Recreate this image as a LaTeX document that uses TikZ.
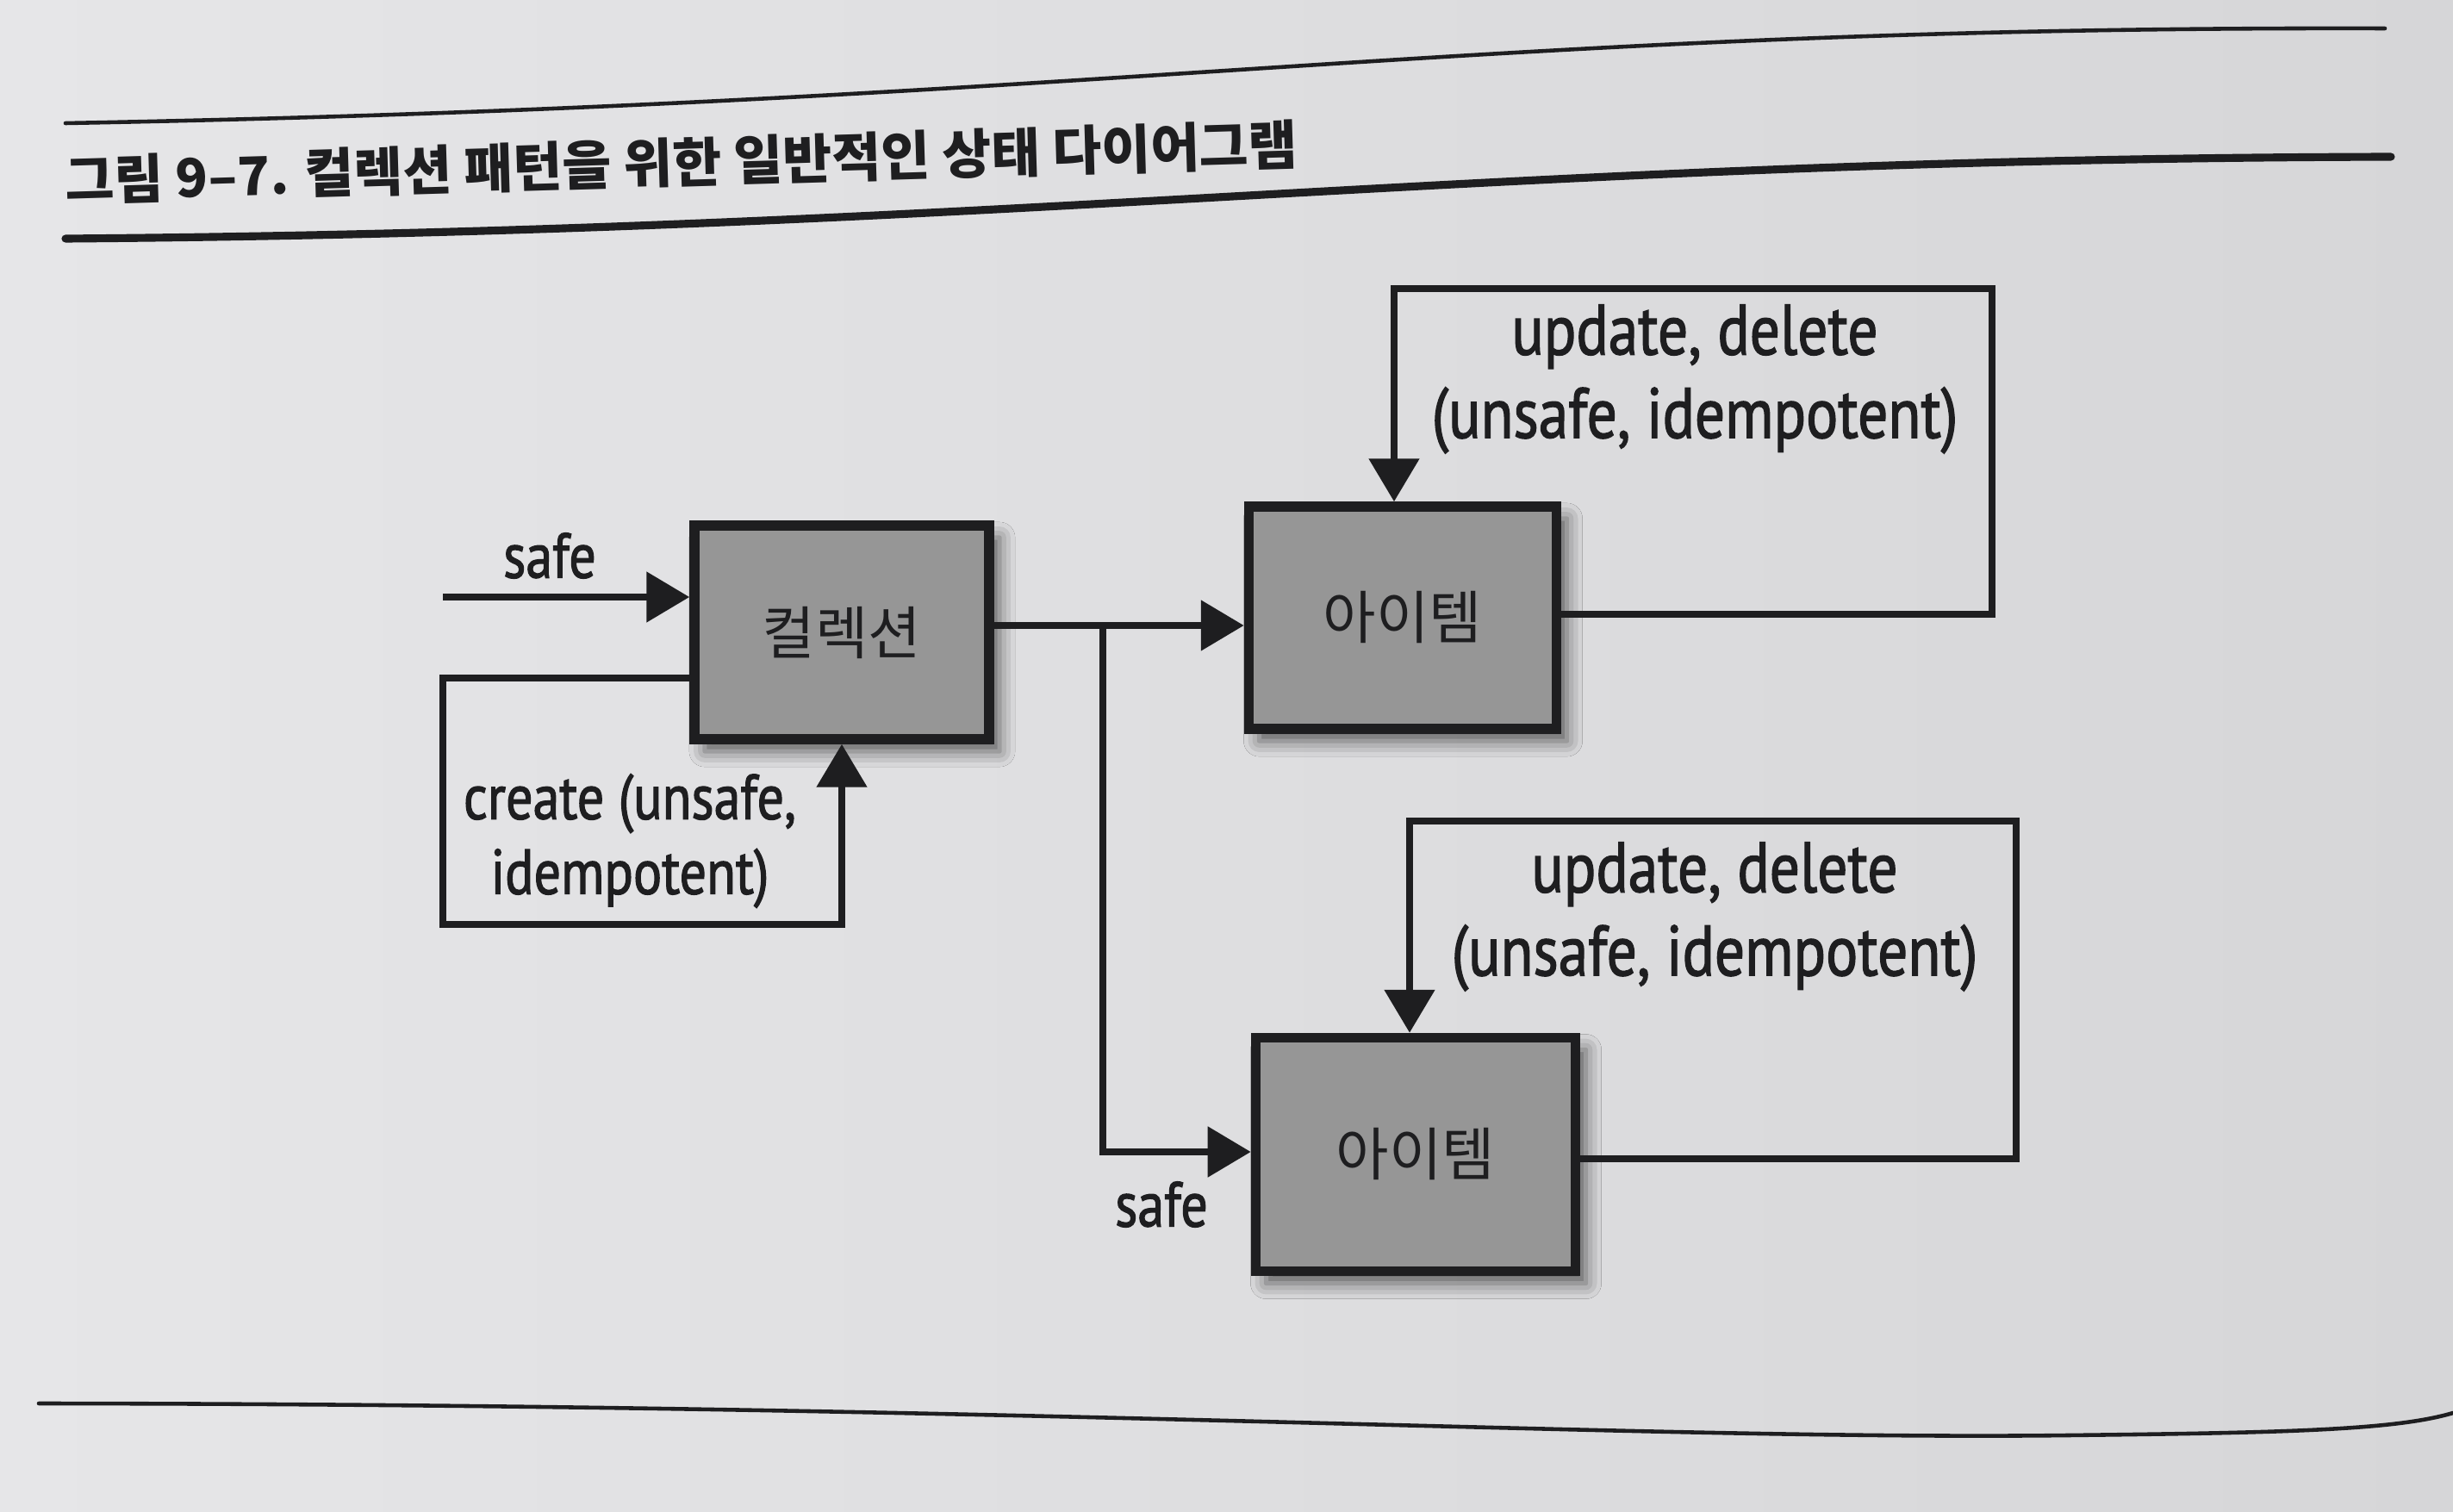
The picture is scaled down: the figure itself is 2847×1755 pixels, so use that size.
\documentclass[tikz,border=0pt]{standalone}
\usepackage{fontspec}
\newfontfamily\cjk{Noto Sans CJK KR}
\newfontfamily\lbl[FakeStretch=0.84,FakeBold=1.6]{PT Sans}
\usetikzlibrary{arrows.meta,shadows.blur}
\definecolor{paper}{RGB}{230,230,232}
\definecolor{paperdark}{RGB}{214,214,216}
\definecolor{boxgray}{RGB}{150,150,150}
\definecolor{ink}{RGB}{30,30,32}
\tikzset{
  statebox/.style={draw=ink, line width=3.2pt, fill=boxgray, inner sep=0pt,
    font=\cjk\fontsize{19}{21}\selectfont, text=ink,
    blur shadow={shadow xshift=0.12cm, shadow yshift=-0.14cm, shadow blur radius=0.18cm, shadow opacity=60}},
  conn/.style={draw=ink, line width=2.4pt, line join=miter},
  arr/.style={conn, -{Triangle[length=0.5cm,width=0.57cm]}},
  lab/.style={font=\lbl\fontsize{21}{24.7}\selectfont, text=ink, align=center, inner sep=0pt},
  biglab/.style={lab, font=\lbl\fontsize{23.5}{27.5}\selectfont},
  rule/.style={draw=ink, line cap=round},
}
\begin{document}
\begin{tikzpicture}[x=0.01cm,y=-0.01cm]
\useasboundingbox (0,0) rectangle (2847,1755);
\shade[left color=paper, right color=paperdark] (0,0) rectangle (2847,1755);

% rules and caption
\draw[rule, line width=1.3pt] (76,143) .. controls (1300,120) and (1700,30) .. (2768,33);
\draw[rule, line width=2.6pt] (76,277) .. controls (1200,268) and (1700,185) .. (2775,182);
\draw[rule, line width=1.3pt] (45,1629) .. controls (1200,1630) and (1900,1672) .. (2400,1666) .. controls (2650,1663) and (2780,1660) .. (2847,1640);
\node[anchor=base west, rotate=1.7, inner sep=0pt, text=ink, font=\cjk\bfseries\fontsize{17.6}{20}\selectfont] (title) at (76,233) {그림 9–7. 컬렉션 패턴을 위한 일반적인 상태 다이어그램};

% states
\node[statebox, minimum width=3.42cm, minimum height=2.48cm] (coll) at (977,734) {컬렉션};
\node[statebox, minimum width=3.57cm, minimum height=2.58cm] (item1) at (1628,717) {아이템};
\node[statebox, minimum width=3.71cm, minimum height=2.71cm] (item2) at (1643,1340) {아이템};

% entry
\coordinate (s0) at (514,693);
\draw[arr] (s0) -- (s0 -| coll.west);
\node[lab] (safeA) at (638,645) {safe};

% create loop
\coordinate (c1) at (514,787);
\coordinate (c2) at (514,1073);
\draw[arr] (coll.west |- c1) -- (c1) -- (c2) -- (c2 -| coll.south) -- (coll.south);
\node[lab] (create) at (731,976) {create (unsafe,\\idempotent)};

% collection to items
\coordinate (m) at (1280,726);
\coordinate (b) at (1280,1337);
\draw[arr] (coll.east |- m) -- (m -| item1.west);
\draw[arr] (m) -- (b) -- (b -| item2.west);
\node[lab] (safeB) at (1348,1398) {safe};

% item loops
\coordinate (t1) at (2312,713);
\coordinate (t2) at (2312,335);
\coordinate (t3) at (1618,335);
\draw[arr] (item1.east |- t1) -- (t1) -- (t2) -- (t3) -- (t3 |- item1.north);
\node[biglab] (upd1) at (1967,440) {update, delete\\(unsafe, idempotent)};

\coordinate (u1) at (2340,1345);
\coordinate (u2) at (2340,953);
\coordinate (u3) at (1636,953);
\draw[arr] (item2.east |- u1) -- (u1) -- (u2) -- (u3) -- (u3 |- item2.north);
\node[biglab] (upd2) at (1990,1064) {update, delete\\(unsafe, idempotent)};
\end{tikzpicture}
\end{document}
